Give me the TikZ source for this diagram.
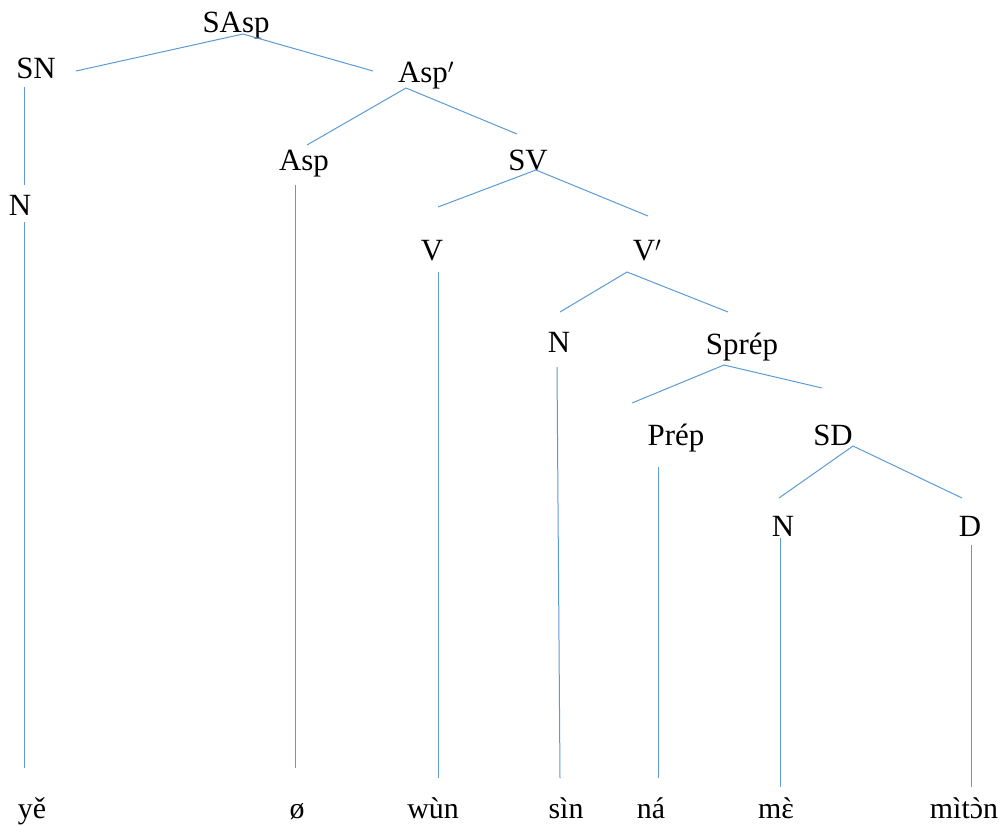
\documentclass[tikz,border=0pt]{standalone}
\usepackage{fontspec}
\setmainfont{Liberation Serif}
% same face without the TeX quote mapping, for the transcribed words
\newfontfamily\wordfont{Liberation Serif}
% grave accent centred over an open vowel
\newcommand{\gravover}[1]{{\ooalign{#1\cr\hidewidth\char"60\hidewidth\cr}}}
\begin{document}
\begin{tikzpicture}[x=1bp,y=-1bp,
  lab/.style={anchor=base,inner sep=0pt,font=\fontsize{31}{36}\selectfont},
  word/.style={anchor=base,inner sep=0pt,font=\wordfont\fontsize{30}{36}\selectfont},
  br/.style={draw=branch,line width=1bp}]
\definecolor{branch}{RGB}{91,155,213}
\useasboundingbox (0,0) rectangle (1005,826);

% category labels
\node[lab] (SAsp) at (236,32) {SAsp};
\node[lab] (SN) at (36,78) {SN};
\node[lab] (AspP) at (426,82) {Asp$'$};
\node[lab] (Asp) at (304,170) {Asp};
\node[lab] (SV) at (528,170) {SV};
\node[lab] (N1) at (20,215) {N};
\node[lab] (V) at (432,260) {V};
\node[lab] (VP) at (647,260) {V$'$};
\node[lab] (N2) at (559,352) {N};
\node[lab] (Sprep) at (742,354) {Sprép};
\node[lab] (Prep) at (676,445) {Prép};
\node[lab] (SD) at (833,445) {SD};
\node[lab] (N3) at (783,536) {N};
\node[lab] (D) at (970,536) {D};

% terminal words
\node[word] (w1) at (32,818) {yě};
\node[word] (w2) at (297,818) {ø};
\node[word] (w3) at (433,818) {wùn};
\node[word] (w4) at (566,818) {sìn};
\node[word] (w5) at (651,818) {ná};
\node[word] (w6) at (776,818) {m\gravover{ɛ}};
\node[word] (w7) at (964,818) {mìt\gravover{ɔ}n};

% branch end points
\coordinate (SAsp-a) at (243,34);
\coordinate (SN-t) at (76,71);
\coordinate (AspP-t) at (373,71);
\coordinate (SN-b) at (24,87);
\coordinate (N1-t) at (24,185);
\coordinate (N1-b) at (24,222);
\coordinate (w1-t) at (24,768);
\coordinate (AspP-a) at (406,88);
\coordinate (Asp-t) at (307,145);
\coordinate (SV-t) at (517,134);
\coordinate (Asp-b) at (295,185);
\coordinate (w2-t) at (295,768);
\coordinate (SV-a) at (536,170);
\coordinate (V-t) at (438,207);
\coordinate (VP-t) at (648,216);
\coordinate (V-b) at (438,272);
\coordinate (w3-t) at (438,778);
\coordinate (VP-a) at (627,272);
\coordinate (N2-t) at (560,312);
\coordinate (Sprep-t) at (728,312);
\coordinate (N2-b) at (557,367);
\coordinate (w4-t) at (560,778);
\coordinate (Sprep-a) at (724,365);
\coordinate (Prep-t) at (632,403);
\coordinate (SD-t) at (822,388);
\coordinate (Prep-b) at (658,467);
\coordinate (w5-t) at (658,778);
\coordinate (SD-a) at (853,446);
\coordinate (N3-t) at (779,498);
\coordinate (D-t) at (962,498);
\coordinate (N3-b) at (780,538);
\coordinate (w6-t) at (780,787);
\coordinate (D-b) at (971,545);
\coordinate (w7-t) at (971,787);

% branches
\draw[br] (SN-t) -- (SAsp-a) -- (AspP-t);
\draw[br] (SN-b) -- (N1-t);
\draw[br] (N1-b) -- (w1-t);
\draw[br] (Asp-t) -- (AspP-a) -- (SV-t);
\draw[br] (Asp-b) -- (w2-t);
\draw[br] (V-t) -- (SV-a) -- (VP-t);
\draw[br] (V-b) -- (w3-t);
\draw[br] (N2-t) -- (VP-a) -- (Sprep-t);
\draw[br] (N2-b) -- (w4-t);
\draw[br] (Prep-t) -- (Sprep-a) -- (SD-t);
\draw[br] (Prep-b) -- (w5-t);
\draw[br] (N3-t) -- (SD-a) -- (D-t);
\draw[br] (N3-b) -- (w6-t);
\draw[br] (D-b) -- (w7-t);
\end{tikzpicture}
\end{document}
